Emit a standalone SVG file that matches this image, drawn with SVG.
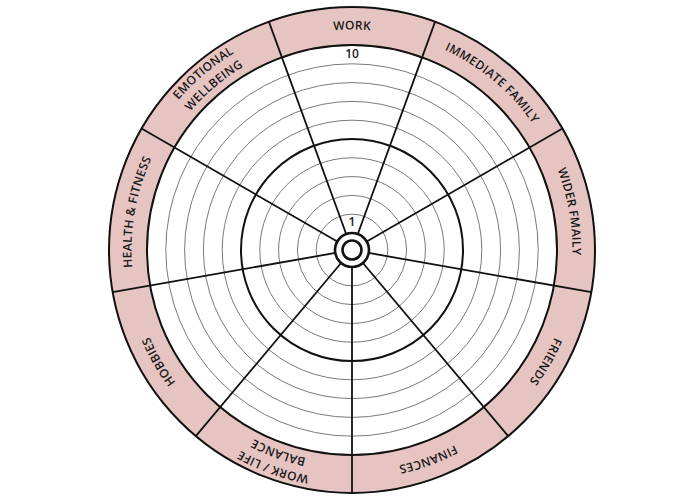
<svg xmlns="http://www.w3.org/2000/svg" xmlns:xlink="http://www.w3.org/1999/xlink" width="700" height="500" viewBox="0 0 700 500">
  <style>
    .ring { fill: #e6c4c2; stroke: #111; stroke-width: 2; }
    .inner { fill: #fff; stroke: #111; stroke-width: 2; }
    .thin { fill: none; stroke: #7a7a7a; stroke-width: 1; }
    .thick { fill: none; stroke: #111; stroke-width: 2; }
    .hub { fill: #fff; stroke: #111; stroke-width: 2.6; }
    .spoke { stroke: #111; stroke-width: 1.8; }
    .lbl { font-family: "Open Sans", "DejaVu Sans", sans-serif; font-size: 12px; font-weight: 600; fill: #1a1a1a; letter-spacing: 0.3px; }
    .num { font-family: "Open Sans", "DejaVu Sans", sans-serif; font-size: 12px; font-weight: 600; fill: #1a1a1a; text-anchor: middle; }
  </style>
  <defs>
    <path id="p221" d="M352,470.5 A220.5,220.5 0 0 1 352,29.5 A220.5,220.5 0 0 1 352,470.5"/>
    <path id="p229" d="M352,479.5 A229.5,229.5 0 0 1 352,20.5 A229.5,229.5 0 0 1 352,479.5"/>
    <path id="p213" d="M352,463 A213,213 0 0 1 352,37 A213,213 0 0 1 352,463"/>
  </defs>
  <rect width="700" height="500" fill="#fff"/>
  <g id="wheel">
    <circle class="ring" cx="352" cy="250" r="243"/>
    <circle class="inner" cx="352" cy="250" r="205"/>
    <circle class="thin" cx="352" cy="250" r="186.2"/>
    <circle class="thin" cx="352" cy="250" r="167.4"/>
    <circle class="thin" cx="352" cy="250" r="148.6"/>
    <circle class="thin" cx="352" cy="250" r="129.8"/>
    <circle class="thick" cx="352" cy="250" r="111"/>
    <circle class="thin" cx="352" cy="250" r="92.2"/>
    <circle class="thin" cx="352" cy="250" r="73.4"/>
    <circle class="thin" cx="352" cy="250" r="54.6"/>
    <circle class="thin" cx="352" cy="250" r="35.8"/>
  </g>
  <g id="spokes">
    <line class="spoke" x1="352" y1="233" x2="352" y2="7" transform="rotate(20 352 250)"/>
    <line class="spoke" x1="352" y1="233" x2="352" y2="7" transform="rotate(60 352 250)"/>
    <line class="spoke" x1="352" y1="233" x2="352" y2="7" transform="rotate(100 352 250)"/>
    <line class="spoke" x1="352" y1="233" x2="352" y2="7" transform="rotate(140 352 250)"/>
    <line class="spoke" x1="352" y1="233" x2="352" y2="7" transform="rotate(180 352 250)"/>
    <line class="spoke" x1="352" y1="233" x2="352" y2="7" transform="rotate(220 352 250)"/>
    <line class="spoke" x1="352" y1="233" x2="352" y2="7" transform="rotate(260 352 250)"/>
    <line class="spoke" x1="352" y1="233" x2="352" y2="7" transform="rotate(300 352 250)"/>
    <line class="spoke" x1="352" y1="233" x2="352" y2="7" transform="rotate(340 352 250)"/>
  </g>
  <g id="hub">
    <circle class="hub" cx="352" cy="250" r="17"/>
    <circle class="hub" cx="352" cy="250" r="9.5"/>
  </g>
  <g id="scale">
    <text class="num" x="352" y="58">10</text>
    <text class="num" x="352" y="226">1</text>
  </g>
  <g id="work"><text class="lbl"><textPath href="#p221" startOffset="50%" text-anchor="middle">WORK</textPath></text></g>
  <g id="immediate-family" transform="rotate(40 352 250)"><text class="lbl"><textPath href="#p221" startOffset="50%" text-anchor="middle">IMMEDIATE FAMILY</textPath></text></g>
  <g id="wider-family" transform="rotate(80 352 250)"><text class="lbl"><textPath href="#p221" startOffset="50%" text-anchor="middle">WIDER FMAILY</textPath></text></g>
  <g id="friends" transform="rotate(120 352 250)"><text class="lbl"><textPath href="#p221" startOffset="50%" text-anchor="middle">FRIENDS</textPath></text></g>
  <g id="finances" transform="rotate(160 352 250)"><text class="lbl"><textPath href="#p221" startOffset="50%" text-anchor="middle">FINANCES</textPath></text></g>
  <g id="work-life-balance" transform="rotate(200 352 250)">
    <text class="lbl"><textPath href="#p229" startOffset="50%" text-anchor="middle">WORK / LIFE</textPath></text>
    <text class="lbl"><textPath href="#p213" startOffset="50%" text-anchor="middle">BALANCE</textPath></text>
  </g>
  <g id="hobbies" transform="rotate(240 352 250)"><text class="lbl"><textPath href="#p221" startOffset="50%" text-anchor="middle">HOBBIES</textPath></text></g>
  <g id="health-fitness" transform="rotate(280 352 250)"><text class="lbl"><textPath href="#p221" startOffset="50%" text-anchor="middle">HEALTH &amp; FITNESS</textPath></text></g>
  <g id="emotional-wellbeing" transform="rotate(320 352 250)">
    <text class="lbl"><textPath href="#p229" startOffset="50%" text-anchor="middle">EMOTIONAL</textPath></text>
    <text class="lbl"><textPath href="#p213" startOffset="50%" text-anchor="middle">WELLBEING</textPath></text>
  </g>
</svg>
